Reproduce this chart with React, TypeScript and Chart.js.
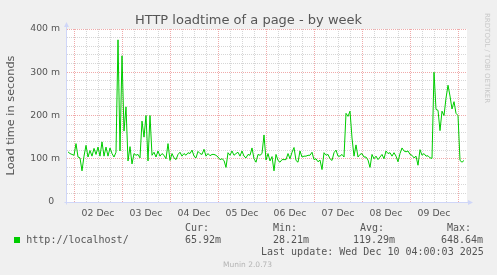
import React, { useEffect, useRef } from "react";
import { Chart, registerables } from "chart.js";

Chart.register(...registerables);

// one sample per hour; hour 0 = 01 Dec 00:00
const firstHour = 21;
const loadMs: number[] = [
  116, 112, 110, 108, 135, 104, 102, 72, 106, 131,
  104, 119, 106, 124, 110, 127, 106, 139, 106, 127,
  106, 125, 112, 104, 115, 375, 118, 338, 164, 220,
  95, 128, 88, 112, 108, 110, 102, 187, 150, 200,
  95, 200, 108, 115, 104, 118, 106, 112, 108, 100,
  135, 96, 112, 102, 98, 110, 115, 106, 112, 108,
  114, 112, 120, 106, 102, 117, 112, 110, 122, 106,
  112, 107, 110, 110, 108, 104, 98, 100, 96, 80,
  114, 108, 118, 108, 112, 115, 106, 118, 106, 102,
  110, 108, 125, 100, 92, 110, 108, 112, 155, 97,
  112, 95, 105, 72, 110, 96, 92, 98, 98, 98,
  112, 100, 115, 126, 96, 92, 118, 104, 106, 106,
  108, 108, 115, 98, 100, 93, 97, 75, 114, 108,
  110, 100, 96, 114, 120, 106, 106, 110, 104, 205,
  198, 210, 148, 106, 132, 104, 110, 112, 104, 104,
  97, 80, 110, 100, 106, 98, 104, 110, 100, 118,
  112, 114, 106, 114, 106, 93, 112, 125, 118, 116,
  118, 110, 108, 102, 106, 85, 121, 108, 112, 106,
  107, 102, 101, 300, 214, 212, 165, 210, 200, 240,
  270, 245, 215, 232, 205, 200, 96, 92, 96,
];
const hours = loadMs.map((_, i) => firstHour + i);

const dayLabels = ["02 Dec", "03 Dec", "04 Dec", "05 Dec", "06 Dec", "07 Dec", "08 Dec", "09 Dec"];
const yTickLabels = ["0  ", "100 m", "200 m", "300 m", "400 m"];
const chartTitle = "HTTP loadtime of a page - by week";
const yTitle = "Load time in seconds";
const seriesName = "http://localhost/";
const statHeaders = ["Cur:", "Min:", "Avg:", "Max:"];
const statValues = ["65.92m", "28.21m", "119.29m", "648.64m"];
const lastUpdate = "Last update: Wed Dec 10 04:00:03 2025";
const footer = "Munin 2.0.73";
const sideText = "RRDTOOL / TOBI OETIKER";

const xMin = 20.5;
const xMax = 220.5;
const gridHours: number[] = [];
for (let h = 24; h <= 216; h += 6) gridHours.push(h);

const lineColor = "#00cc00";
const axisColor = "#cfd6f8";
const minorGrid = "#d6d6d6";
const majorGrid = "#f0aaaa";
const textColor = "#555555";

const frame = {
  id: "muninFrame",
  beforeDraw(chart: any) {
    const { ctx, chartArea: a } = chart;
    ctx.save();
    ctx.fillStyle = "#ffffff";
    ctx.fillRect(a.left, a.top, a.right - a.left, a.bottom - a.top);
    ctx.restore();
  },
  afterDraw(chart: any) {
    const { ctx, chartArea: a } = chart;
    const x = Math.round(a.left) - 0.5;
    const y = Math.round(a.bottom) + 0.5;
    ctx.save();
    ctx.strokeStyle = axisColor;
    ctx.fillStyle = axisColor;
    ctx.lineWidth = 1;
    ctx.beginPath();
    ctx.moveTo(x, y + 2);
    ctx.lineTo(x, a.top - 3);
    ctx.stroke();
    ctx.beginPath();
    ctx.moveTo(x - 2, y);
    ctx.lineTo(a.right + 2, y);
    ctx.stroke();
    ctx.beginPath();
    ctx.moveTo(x - 2.5, a.top - 2);
    ctx.lineTo(x + 2.5, a.top - 2);
    ctx.lineTo(x, a.top - 7);
    ctx.closePath();
    ctx.fill();
    ctx.beginPath();
    ctx.moveTo(a.right + 1, y - 2.5);
    ctx.lineTo(a.right + 1, y + 2.5);
    ctx.lineTo(a.right + 6, y);
    ctx.closePath();
    ctx.fill();
    ctx.restore();
  },
};

function Txt(props: { x: number; base: number; size: number; mono?: boolean; color?: string; children: React.ReactNode }) {
  const { x, base, size, mono, color, children } = props;
  return (
    <div
      style={{
        position: "absolute",
        left: x,
        top: base - 0.846 * size,
        fontFamily: mono ? "'DejaVu Sans Mono', monospace" : "'DejaVu Sans', sans-serif",
        fontSize: size,
        lineHeight: `${size}px`,
        color: color || textColor,
        whiteSpace: "pre",
      }}
    >
      {children}
    </div>
  );
}

export default function App() {
  const ref = useRef<HTMLCanvasElement | null>(null);

  useEffect(() => {
    if (!ref.current) return;
    const chart = new Chart(ref.current, {
      type: "line",
      data: {
        datasets: [
          {
            label: seriesName,
            data: hours.map((h, i) => ({ x: h, y: loadMs[i] })),
            borderColor: lineColor,
            borderWidth: 1,
            pointRadius: 0,
            tension: 0,
            fill: false,
          },
        ],
      },
      options: {
        animation: false,
        responsive: false,
        devicePixelRatio: 1,
        layout: { padding: { left: 0, right: 30, top: 29, bottom: 53 } },
        plugins: { legend: { display: false }, title: { display: false }, tooltip: { enabled: false } },
        scales: {
          x: {
            type: "linear",
            min: xMin,
            max: xMax,
            afterFit: (s: any) => {
              s.height = 20;
            },
            afterBuildTicks: (s: any) => {
              s.ticks = gridHours.map((v) => ({ value: v }));
            },
            grid: {
              drawTicks: false,
              lineWidth: 1,
              color: (c: any) => (c.tick && c.tick.value % 24 === 0 ? majorGrid : minorGrid),
            },
            border: { display: false, dash: [1, 1] },
            ticks: {
              autoSkip: false,
              maxRotation: 0,
              padding: 6,
              color: textColor,
              font: { family: "'DejaVu Sans'", size: 9.3 },
              callback: (v: any) => {
                const n = Number(v);
                return n % 24 === 12 ? dayLabels[(n - 36) / 24] : "";
              },
            },
          },
          y: {
            min: 0,
            max: 400,
            afterFit: (s: any) => {
              s.width = 67;
            },
            grid: {
              drawTicks: false,
              lineWidth: 1,
              color: (c: any) => (c.tick && c.tick.value % 100 === 0 ? majorGrid : minorGrid),
            },
            border: { display: false, dash: [1, 1] },
            title: {
              display: true,
              text: yTitle,
              color: textColor,
              font: { family: "'DejaVu Sans'", size: 11.3 },
              padding: { top: 4, bottom: 0 },
            },
            ticks: {
              stepSize: 20,
              autoSkip: false,
              padding: 7,
              color: textColor,
              font: { family: "'DejaVu Sans'", size: 9.3 },
              callback: (v: any) => {
                const n = Number(v);
                return n % 100 === 0 ? yTickLabels[n / 100] : "";
              },
            },
          },
        },
      },
      plugins: [frame],
    });
    return () => chart.destroy();
  }, []);

  const headerX = [185, 273, 360, 447];
  const valueX = [185, 273, 353, 441];

  return (
    <div style={{ position: "fixed", left: 0, top: 0, width: 497, height: 275, background: "#f0f0f0", overflow: "hidden" }}>
      <canvas ref={ref} width={497} height={275} style={{ position: "absolute", left: 0, top: 0, width: 497, height: 275 }} />
      <div
        style={{
          position: "absolute",
          left: 0,
          width: 497,
          top: 24 - 0.846 * 13,
          textAlign: "center",
          fontFamily: "'DejaVu Sans', sans-serif",
          fontSize: 13,
          lineHeight: "13px",
          color: textColor,
          whiteSpace: "pre",
        }}
      >
        {chartTitle}
      </div>
      <div
        style={{
          position: "absolute",
          left: 482,
          top: 13,
          writingMode: "vertical-rl",
          fontFamily: "'DejaVu Sans', sans-serif",
          fontSize: 7,
          lineHeight: "9px",
          color: "#c8c8c8",
          whiteSpace: "pre",
        }}
      >
        {sideText}
      </div>
      <div style={{ position: "absolute", left: 14, top: 237, width: 6, height: 6, background: lineColor }} />
      <Txt x={26.3} base={243} size={10} mono>
        {seriesName}
      </Txt>
      {statHeaders.map((h, i) => (
        <Txt key={"h" + i} x={headerX[i]} base={231} size={10} mono>
          {h}
        </Txt>
      ))}
      {statValues.map((v, i) => (
        <Txt key={"v" + i} x={valueX[i]} base={243} size={10} mono>
          {v}
        </Txt>
      ))}
      <Txt x={261} base={255} size={10} mono>
        {lastUpdate}
      </Txt>
      <Txt x={223} base={267} size={7.5} color="#b4b4b4">
        {footer}
      </Txt>
    </div>
  );
}
